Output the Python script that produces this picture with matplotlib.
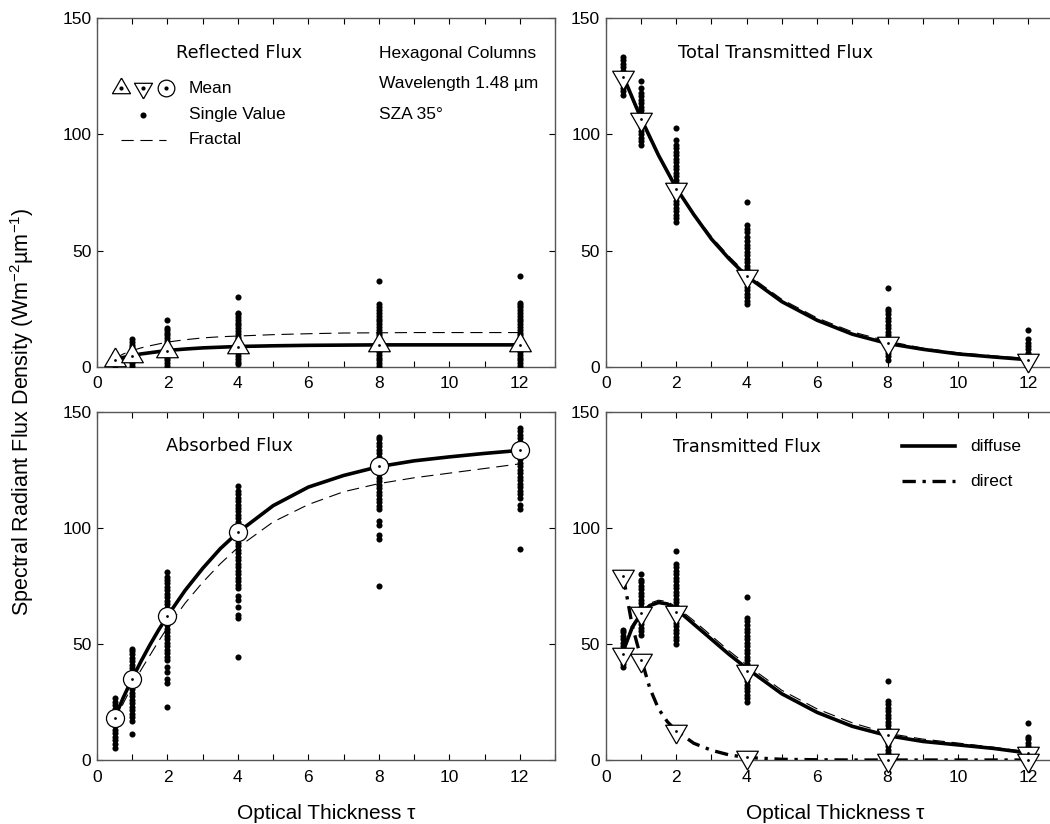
import numpy as np
import matplotlib
matplotlib.use("Agg")
import matplotlib.pyplot as plt
from matplotlib.ticker import MultipleLocator

plt.rcParams["font.family"] = ["Liberation Sans", "DejaVu Sans"]
plt.rcParams["mathtext.fontset"] = "custom"
plt.rcParams["mathtext.rm"] = "Liberation Sans"

# optical thickness where the simulations were run
tau = [0.5, 1, 2, 4, 8, 12]
tau_fine = [0.5, 0.75, 1, 1.25, 1.5, 1.75, 2, 2.5, 3, 3.5, 4, 5, 6, 7, 8, 9, 10, 11, 12]

# ---- reflected flux
refl_mean = [2.9, 4.6, 6.9, 8.6, 9.3, 9.3]
refl_curve = [3.0, 4.0, 4.8, 5.5, 6.0, 6.5, 7.0, 7.6, 8.1, 8.4, 8.7, 9.0, 9.2, 9.3, 9.4, 9.4, 9.4, 9.4, 9.4]
refl_fractal = [3.5, 5.5, 7.0, 8.1, 9.0, 9.8, 10.6, 11.6, 12.4, 12.9, 13.2, 13.8, 14.2, 14.5, 14.6, 14.7, 14.7, 14.7, 14.7]
refl_single = [
    [0.5, 1.2, 2.0, 2.8, 3.5, 4.2, 5.0, 5.8],
    [0.5, 1.5, 2.5, 3.5, 4.5, 5.5, 6.5, 7.5, 8.5, 9.5, 10.5, 12.0],
    [0.5, 1.5, 2.7, 3.9, 5.1, 6.3, 7.5, 8.7, 9.9, 11.1, 12.3, 13.5, 14.7, 15.9, 16.5, 20.0],
    [1.0, 2.2, 3.4, 4.6, 5.8, 7.0, 8.2, 9.4, 10.6, 11.8, 13.0, 14.2, 15.4, 16.6, 17.8, 19.0, 20.2, 21.4, 22.6, 23.2, 30.0],
    [0.3, 1.5, 2.7, 3.9, 5.1, 6.3, 7.5, 8.7, 9.9, 11.1, 12.3, 13.5, 14.7, 15.9, 17.1, 18.3, 19.5, 20.7, 21.9, 23.1, 24.3, 25.5, 26.8, 37.0],
    [0.3, 1.5, 2.7, 3.9, 5.1, 6.3, 7.5, 8.7, 9.9, 11.1, 12.3, 13.5, 14.7, 15.9, 17.1, 18.3, 19.5, 20.7, 21.9, 23.1, 24.3, 25.5, 26.7, 27.6, 39.0],
]

# ---- total transmitted flux
ttot_mean = [124.8, 106.5, 76.7, 39.0, 10.0, 3.0]
ttot_curve = [125, 116, 107, 99, 91, 84, 77, 65.5, 55, 46.5, 39, 28, 20, 14, 10, 7.5, 5.5, 4.2, 3.0]
ttot_fractal = [124, 115, 106, 98, 90.5, 83.5, 77, 66, 56, 47.5, 40, 29, 21, 15, 11, 8, 6, 4.7, 3.5]
ttot_single = [
    [117, 118.5, 120, 121.5, 123, 124.5, 126, 127.5, 129, 130.5, 132, 133.5],
    [95.5, 97, 98.5, 100, 101.5, 103, 104.5, 106, 107.5, 109, 110.5, 112, 113.5, 115, 116.5, 118, 119.8, 123],
    [62.5, 64, 65.5, 67, 68.5, 70, 71.5, 73, 74.5, 76, 77.5, 79, 80.5, 82, 83.5, 85, 86.5, 88, 89.5, 91, 92.5, 94, 95.5, 97.5, 102.7],
    [27, 28.5, 30, 31.5, 33, 34.5, 36, 37.5, 39, 40.5, 42, 43.5, 45, 46.5, 48, 49.5, 51, 52.5, 54, 56, 58, 59.5, 61, 71],
    [3, 4.5, 6, 7.5, 9, 10.5, 12, 13.5, 15, 16.5, 18, 19.5, 21, 22.5, 24, 25, 34],
    [0.3, 1.5, 3, 4.5, 6, 7.5, 9, 10, 12, 16],
]

# ---- absorbed flux
abs_mean = [18.2, 34.8, 62.2, 98.0, 126.5, 133.5]
abs_curve = [18, 27, 35, 42.5, 49.5, 56, 62, 73, 82.5, 91, 98, 109.5, 117.5, 122.5, 126.3, 128.8, 130.5, 132, 133.3]
abs_fractal = [16, 24.5, 32, 38.8, 45, 51.2, 57, 67.5, 76.5, 84.5, 91.5, 102.5, 110, 115.5, 119, 121.5, 123.5, 125.5, 127.5]
abs_single = [
    [5.3, 7, 8.5, 10, 11.5, 13, 14.5, 16, 17.5, 19, 20.5, 22, 23.5, 25, 26.7],
    [11.2, 17, 18.5, 20, 21.5, 23, 24.5, 26, 27.5, 29, 30.5, 32, 33.5, 35, 36.5, 38, 39.5, 41, 42.5, 44, 45.5, 47, 48],
    [23, 33, 35, 38, 40, 43, 44.5, 46, 47.5, 49, 50.5, 52, 53.5, 55, 56.5, 58, 59.5, 61, 62.5, 64, 65.5, 67, 68.5, 70,
     71.5, 73, 74.5, 76, 77.5, 79, 81],
    [44.5, 61, 62.5, 66, 69, 70.5, 74, 75.5, 77, 78.5, 80, 81.5, 83, 84.5, 86, 87.5, 89, 90.5, 92, 93.5, 95, 96.5, 98,
     99.5, 101, 102.5, 104, 105.5, 107, 108.5, 110, 111.5, 113, 114.5, 116, 117.8],
    [75, 95, 97, 101, 103, 108, 109.5, 111, 112.5, 114, 115.5, 117, 118.5, 120, 121.5, 123, 124.5, 126, 127.5, 129,
     130.5, 132, 133.5, 135, 136.5, 138, 139],
    [91, 108, 110, 113, 114.5, 116, 117.5, 119, 120.5, 122, 123.5, 125, 126.5, 128, 129.5, 131, 132.5, 134, 135.5, 137,
     138.5, 140, 141.5, 143],
]

# ---- transmitted flux, diffuse and direct parts
diff_mean = [45.5, 63.5, 63.9, 38.5, 10.8, 2.9]
dir_mean = [79.3, 43.1, 12.6, 1.1, 0.0, 0.0]
diff_curve = [47, 57, 63, 66.5, 67.8, 67.2, 65, 58.5, 52, 45.5, 39.5, 28.5, 20.5, 14.5, 10.5, 8, 6.5, 5, 3]
diff_fractal = [47.5, 58, 64, 67.5, 68.8, 68.2, 66, 60, 53.5, 47, 41, 30, 22, 16, 11.5, 9, 7.3, 5.5, 3.5]
dir_curve = [79, 58, 44, 31, 22, 16.5, 12.6, 7.2, 4.2, 2.2, 1.1, 0.3, 0.1, 0, 0, 0, 0, 0, 0]
diff_single = [
    [40, 41.5, 43, 44.5, 46, 47.5, 49, 50.5, 52, 53.5, 55, 56],
    [54, 55.5, 57, 58.5, 60, 61.5, 63, 64.5, 66, 67.5, 69, 70.5, 72, 73.5, 75, 76.5, 77.5, 80],
    [50, 51.5, 53, 54.5, 56, 57.5, 59, 60.5, 62, 63.5, 65, 66.5, 68, 69.5, 71, 72.5, 74, 75.5, 77, 78.5, 80, 81.5, 83,
     84.3, 90],
    [25, 26.5, 28, 29.5, 31, 32.5, 34, 35.5, 37, 38.5, 40, 41.5, 43, 44.5, 46, 47.5, 49, 50.5, 52, 53.5, 55, 56.5, 58,
     60, 61, 70],
    [3, 4.5, 6, 7.5, 9, 10.5, 12, 13.5, 15, 16.5, 18, 19.5, 21, 22.5, 24, 25.2, 34],
    [0.3, 1.5, 3, 4.5, 6, 7.5, 9, 10, 16],
]

LABEL_FS = 12.5
TITLE_FONT = "DejaVu Sans"
TITLE_FS = 12.8
LINE_C = "black"
FRACTAL_LS = (0, (11, 6))
DIRECT_LS = (0, (4, 2, 1, 2))

# triangles whose centroid sits on the data point (the dot marks the centroid)
TRI_UP = [(0, 1), (-0.866, -0.5), (0.866, -0.5), (0, 1)]
TRI_DOWN = [(0, -1), (-0.866, 0.5), (0.866, 0.5), (0, -1)]


def style_axes(ax):
    ax.set_xlim(0, 13)
    ax.set_ylim(0, 150)
    ax.set_xticks([0, 2, 4, 6, 8, 10, 12])
    ax.xaxis.set_minor_locator(MultipleLocator(1))
    ax.set_yticks([0, 50, 100, 150])
    ax.tick_params(which="both", direction="in", top=True, right=True,
                   labelsize=LABEL_FS, width=0.8, color="black", length=4.5)
    ax.tick_params(axis="x", which="both", pad=7)
    ax.tick_params(axis="y", which="both", pad=4)
    for s in ax.spines.values():
        s.set_color("#555555")
        s.set_linewidth(1.0)


def draw_single(ax, values_list):
    for t, vals in zip(tau, values_list):
        ax.plot([t] * len(vals), vals, "o", ms=4.4, color="black", mec="none", zorder=3)


def draw_mean(ax, vals, marker, ms=18):
    ax.plot(tau, vals, marker=marker, ms=ms, mfc="white", mec="black", mew=0.9, ls="none",
            zorder=5, clip_on=False)
    ax.plot(tau, vals, "o", ms=2.0, color="black", mec="none", ls="none", zorder=6, clip_on=False)


def panel_title(ax, x, y, s):
    ax.text(x, y, s, transform=ax.transAxes, ha="center", va="center",
            fontsize=TITLE_FS, family=TITLE_FONT)


fig = plt.figure(figsize=(10.5, 8.24), dpi=100)
W, H = 1050, 824
ax_w, ax_h = 458 / W, 348.4 / H
ax1 = fig.add_axes([97 / W, 1 - 366.7 / H, ax_w, ax_h])
ax2 = fig.add_axes([605.7 / W, 1 - 366.7 / H, ax_w, ax_h])
ax3 = fig.add_axes([97 / W, 1 - 760 / H, ax_w, ax_h])
ax4 = fig.add_axes([605.7 / W, 1 - 760 / H, ax_w, ax_h])

# reflected
style_axes(ax1)
draw_single(ax1, refl_single)
ax1.plot(tau_fine, refl_curve, color=LINE_C, lw=2.6, zorder=4)
ax1.plot(tau_fine, refl_fractal, color=LINE_C, lw=0.8, ls=FRACTAL_LS, zorder=4)
draw_mean(ax1, refl_mean, TRI_UP)
panel_title(ax1, 0.31, 0.90, "Reflected Flux")
ax1.text(0.616, 0.90, "Hexagonal Columns", transform=ax1.transAxes, ha="left", va="center", fontsize=LABEL_FS)
ax1.text(0.616, 0.813, "Wavelength 1.48 µm", transform=ax1.transAxes, ha="left", va="center", fontsize=LABEL_FS)
ax1.text(0.616, 0.724, "SZA 35°", transform=ax1.transAxes, ha="left", va="center", fontsize=LABEL_FS)
# legend block
for xf, mk, msz in [(0.0517, TRI_UP, 15), (0.0998, TRI_DOWN, 15), (0.150, "o", 12)]:
    ax1.plot([xf], [0.799], marker=mk, ms=msz, mfc="white", mec="black", mew=0.9, transform=ax1.transAxes)
    ax1.plot([xf], [0.799], "o", ms=2.0, color="black", transform=ax1.transAxes)
ax1.plot([0.0998], [0.7225], "o", ms=4.4, color="black", mec="none", transform=ax1.transAxes)
ax1.plot([0.0517, 0.150], [0.6507, 0.6507], color=LINE_C, lw=0.8, ls=FRACTAL_LS, transform=ax1.transAxes)
ax1.text(0.2009, 0.799, "Mean", transform=ax1.transAxes, va="center", fontsize=LABEL_FS)
ax1.text(0.2009, 0.7225, "Single Value", transform=ax1.transAxes, va="center", fontsize=LABEL_FS)
ax1.text(0.2009, 0.6507, "Fractal", transform=ax1.transAxes, va="center", fontsize=LABEL_FS)

# total transmitted
style_axes(ax2)
draw_single(ax2, ttot_single)
ax2.plot(tau_fine, ttot_curve, color=LINE_C, lw=2.6, zorder=4)
ax2.plot(tau_fine, ttot_fractal, color=LINE_C, lw=0.8, ls=FRACTAL_LS, zorder=4)
draw_mean(ax2, ttot_mean, TRI_DOWN)
panel_title(ax2, 0.371, 0.90, "Total Transmitted Flux")

# absorbed
style_axes(ax3)
draw_single(ax3, abs_single)
ax3.plot(tau_fine, abs_curve, color=LINE_C, lw=2.6, zorder=4)
ax3.plot(tau_fine, abs_fractal, color=LINE_C, lw=0.8, ls=FRACTAL_LS, zorder=4)
draw_mean(ax3, abs_mean, "o", ms=13)
panel_title(ax3, 0.290, 0.90, "Absorbed Flux")
ax3.set_xlabel("Optical Thickness τ", fontsize=15, labelpad=14)

# transmitted diffuse / direct
style_axes(ax4)
draw_single(ax4, diff_single)
ax4.plot(tau_fine, diff_curve, color=LINE_C, lw=2.6, zorder=4)
ax4.plot(tau_fine, diff_fractal, color=LINE_C, lw=0.8, ls=FRACTAL_LS, zorder=4)
ax4.plot(tau_fine, dir_curve, color=LINE_C, lw=2.4, ls=DIRECT_LS, zorder=4)
draw_mean(ax4, diff_mean, TRI_DOWN)
draw_mean(ax4, dir_mean, TRI_DOWN)
panel_title(ax4, 0.308, 0.897, "Transmitted Flux")
ax4.plot([0.646, 0.763], [0.90, 0.90], color=LINE_C, lw=2.6, transform=ax4.transAxes)
ax4.plot([0.646, 0.763], [0.80, 0.80], color=LINE_C, lw=2.4, ls=DIRECT_LS, transform=ax4.transAxes)
ax4.text(0.795, 0.90, "diffuse", transform=ax4.transAxes, va="center", fontsize=LABEL_FS)
ax4.text(0.795, 0.80, "direct", transform=ax4.transAxes, va="center", fontsize=LABEL_FS)
ax4.set_xlabel("Optical Thickness τ", fontsize=15, labelpad=14)

fig.text(0.021, 0.5, r"Spectral Radiant Flux Density (Wm$^{-2}$µm$^{-1}$)", rotation=90,
         ha="center", va="center", fontsize=15.5)

fig.savefig("out.png", dpi=100, facecolor="white")
